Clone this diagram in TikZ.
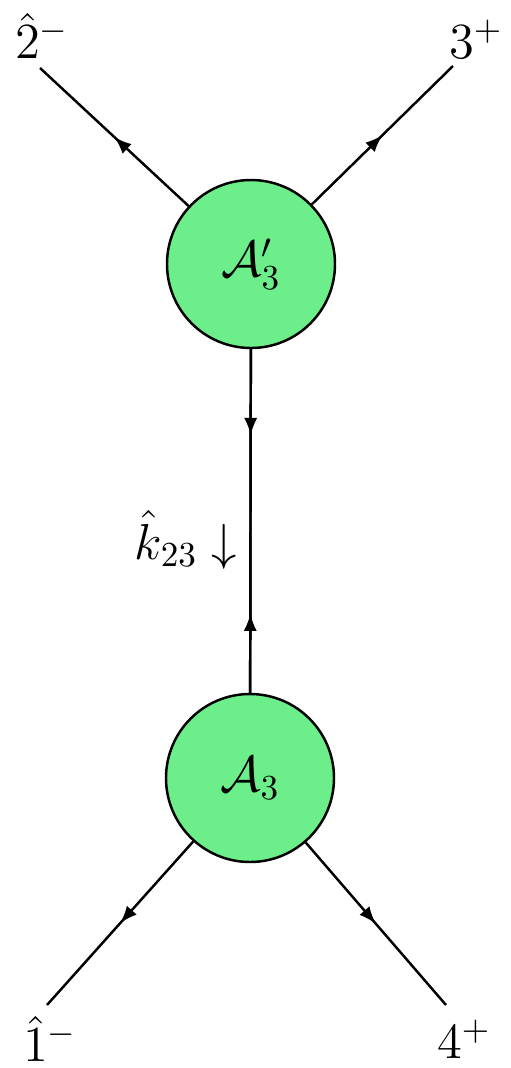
\documentclass[tikz,border=0pt]{standalone}
\usepackage{amssymb,amsmath}
\usetikzlibrary{arrows,decorations.markings}
\definecolor{blobgreen}{RGB}{108,238,138}

\begin{document}
\begin{tikzpicture}[x=1mm, y=-1mm,
				>=latex,   %Pfeilspitzen
				font=\Large,
				blob/.style={circle, draw, fill=blobgreen, minimum size=16.8mm, inner sep=0pt, line width=0.7pt},
				fermion/.style={line width=0.7pt, postaction={decorate}, decoration={markings, mark=at position #1 with {\arrow{>}}}},
				fermion/.default=0.5,
				antifermion/.style={line width=0.7pt, postaction={decorate}, decoration={markings, mark=at position #1 with {\arrowreversed{>}}}}]
				\useasboundingbox (0,0) rectangle (51.1,106.8);
				% Vertizes
				\node[blob] (Aprime) at (25.1,26.4) {$\mathcal{A}'_3$};
				\node[blob] (A) at (25.0,77.8) {$\mathcal{A}_3$};
				% aeussere Beine
				\coordinate (e2) at (4.0,6.8);
				\coordinate (e3) at (45.3,6.6);
				\coordinate (e1) at (4.7,100.5);
				\coordinate (e4) at (44.6,100.5);
				\draw[fermion] (Aprime) -- (e2);
				\draw[fermion] (Aprime) -- (e3);
				\draw[fermion] (A) -- (e1);
				\draw[fermion] (A) -- (e4);
				% Propagator
				\draw[fermion=0.25] (Aprime) -- (A);
				\draw[antifermion=0.77] (Aprime) -- (A);
				% Beschriftung
				\node (l2) at (4.2,3.6) {$\hat{2}^-$};
				\node (l3) at (47.6,3.9) {$3^+$};
				\node (l1) at (5.0,103.9) {$\hat{1}^-$};
				\node (l4) at (46.4,103.9) {$4^+$};
				\node (k) at (18.6,54.0) {$\hat{k}_{23}\downarrow$};
			\end{tikzpicture}
\end{document}
